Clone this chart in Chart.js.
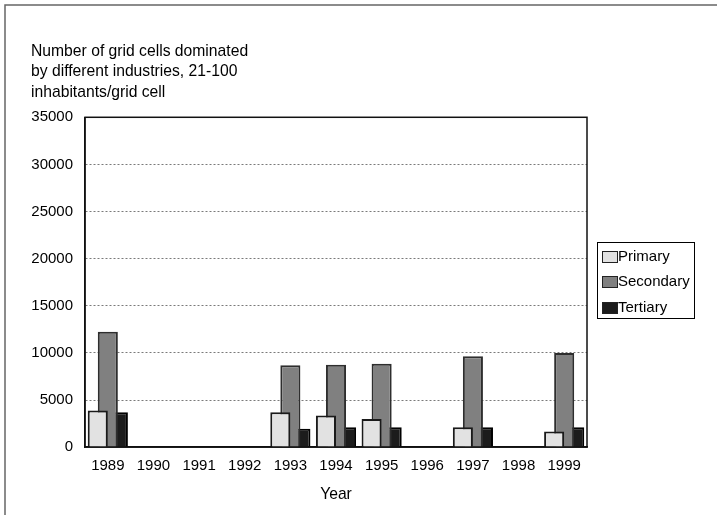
<!DOCTYPE html>
<html>
<head>
<meta charset="utf-8">
<script src="https://cdn.jsdelivr.net/npm/chart.js@4/dist/chart.umd.min.js"></script>
<style>
html,body{margin:0;padding:0;background:#fff;}
#wrap{width:717px;height:515px;position:relative;}
</style>
</head>
<body>
<div id="wrap"><canvas id="c" width="717" height="515"></canvas></div>
<script>
const years = ['1989','1990','1991','1992','1993','1994','1995','1996','1997','1998','1999'];
const primary   = [3900, null, null, null, 3700, 3350, 3000, null, 2100, null, 1650];
const secondary = [12250, null, null, null, 8700, 8750, 8850, null, 9650, null, 10000];
const tertiary  = [3700, null, null, null, 1950, 2100, 2100, null, 2100, null, 2100];
const seriesNames = ['Primary', 'Secondary', 'Tertiary'];
const titleLines = ['Number of grid cells dominated', 'by different industries, 21-100', 'inhabitants/grid cell'];
const FONT = "'Liberation Sans', Arial, sans-serif";

const framePlugin = {
  id: 'frame',
  beforeDraw(chart) {
    const ctx = chart.ctx;
    ctx.save();
    ctx.fillStyle = '#fff';
    ctx.fillRect(0, 0, chart.width, chart.height);
    ctx.strokeStyle = '#666';
    ctx.lineWidth = 1.5;
    ctx.beginPath();
    ctx.moveTo(5, chart.height);
    ctx.lineTo(5, 5);
    ctx.lineTo(chart.width, 5);
    ctx.stroke();
    ctx.restore();
  },
  afterDraw(chart) {
    const ctx = chart.ctx;
    const a = chart.chartArea;
    ctx.save();
    ctx.strokeStyle = '#111';
    ctx.lineWidth = 1.5;
    ctx.strokeRect(a.left, a.top, a.right - a.left, a.bottom - a.top);
    // legend box
    const midY = (a.top + a.bottom) / 2;
    const bx = Math.round(a.right + 10), bw = 97, itemH = 25.5;
    const n = chart.data.datasets.length;
    const bh = 76;
    const by = Math.round(midY - bh / 2 - 1) - 0.5;
    ctx.lineWidth = 1;
    ctx.strokeStyle = '#000';
    ctx.strokeRect(bx + 0.5, by, bw, bh);
    ctx.font = '15px ' + FONT;
    ctx.textBaseline = 'middle';
    ctx.textAlign = 'left';
    chart.data.datasets.forEach((ds, i) => {
      const cy = by + 13.5 + i * itemH;
      ctx.fillStyle = ds.backgroundColor;
      ctx.fillRect(bx + 5.5, Math.round(cy - 5.5) + 0.5, 15, 11);
      ctx.strokeStyle = '#222';
      ctx.lineWidth = 1;
      ctx.strokeRect(bx + 5.5, Math.round(cy - 5.5) + 0.5, 15, 11);
      ctx.fillStyle = '#000';
      ctx.fillText(ds.label, bx + 21, cy + 0.5);
    });
    ctx.restore();
  }
};

new Chart(document.getElementById('c'), {
  type: 'bar',
  data: {
    labels: years,
    datasets: [
      { label: seriesNames[0], data: primary, backgroundColor: '#e2e2e2', borderColor: '#1a1a1a', borderWidth: 2 },
      { label: seriesNames[1], data: secondary, backgroundColor: '#808080', borderColor: '#2e2e2e', borderWidth: 2 },
      { label: seriesNames[2], data: tertiary, backgroundColor: '#1c1c1c', borderColor: '#000', borderWidth: 2 }
    ]
  },
  options: {
    responsive: false,
    animation: false,
    devicePixelRatio: 1,
    layout: { padding: { left: 31, right: 130, top: 0, bottom: 11 } },
    datasets: { bar: { categoryPercentage: 0.66, barPercentage: 2.0 } },
    plugins: {
      title: {
        display: true,
        text: titleLines,
        align: 'start',
        color: '#000',
        font: { family: FONT, size: 15.7, weight: 'normal', lineHeight: 1.28 },
        padding: { top: 42, bottom: 15 }
      },
      legend: { display: false },
      tooltip: { enabled: false }
    },
    scales: {
      x: {
        grid: { display: false, drawTicks: false },
        border: { display: true, color: '#111', width: 1.5 },
        ticks: { color: '#000', font: { family: FONT, size: 15 }, padding: 10, maxRotation: 0, autoSkip: false },
        title: { display: true, text: 'Year', color: '#000', font: { family: FONT, size: 15.7 }, padding: { top: 0, bottom: 0 } }
      },
      y: {
        min: 0,
        max: 35000,
        afterFit: (scale) => { scale.width = 54; },
        grid: {
          drawTicks: false,
          color: (c) => (c.tick && (c.tick.value === 0 || c.tick.value === 35000)) ? 'rgba(0,0,0,0)' : '#7a7a7a',
          lineWidth: 1
        },
        border: { display: true, color: '#111', width: 1.5, dash: [2, 2] },
        ticks: { stepSize: 5000, color: '#000', font: { family: FONT, size: 15 }, padding: 12, callback: (v) => String(v) }
      }
    }
  },
  plugins: [framePlugin]
});
</script>
</body>
</html>
